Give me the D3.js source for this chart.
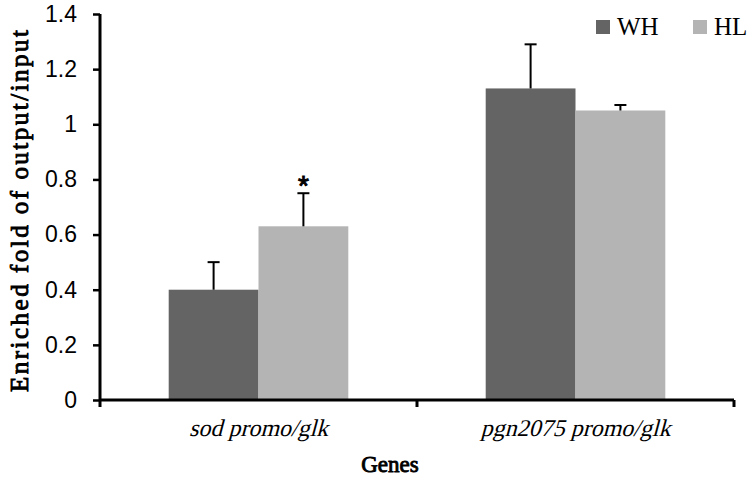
<!DOCTYPE html>
<html>
<head>
<meta charset="utf-8">
<script src="https://cdn.jsdelivr.net/npm/d3@7"></script>
<style>
  html, body { margin: 0; padding: 0; background: #fff; }
  svg { display: block; }
</style>
</head>
<body>
<svg id="chart" width="750" height="477"></svg>
<script>
// data
const categories = ['sod promo/glk', 'pgn2075 promo/glk'];
const seriesNames = ['WH', 'HL'];
const whValues = [0.40, 1.13];
const hlValues = [0.63, 1.05];
const whErrors = [0.10, 0.16];
const hlErrors = [0.12, 0.02];
const hlMarks = ['*', ''];
const yTicks = [0, 0.2, 0.4, 0.6, 0.8, 1, 1.2, 1.4];
const yTickLabels = ['0', '0.2', '0.4', '0.6', '0.8', '1', '1.2', '1.4'];

const colors = { WH: '#646464', HL: '#b4b4b4' };
// only the regular serif face is usable here, so bold/italic are faked
const serif = "'Liberation Serif', 'Times New Roman', serif";

const svg = d3.select('#chart');
const plotLeft = 100, plotRight = 734, plotTop = 14, plotBottom = 400;

const y = d3.scaleLinear().domain([0, 1.4]).range([plotBottom, plotTop]);
const x0 = d3.scaleBand().domain(categories).range([plotLeft, plotRight]).padding(0);
const x1 = d3.scaleBand().domain(seriesNames).range([0, x0.bandwidth()])
    .paddingInner(0).paddingOuter(0.765);

const rows = categories.map((c, i) => ({
    cat: c,
    bars: [
        { key: 'WH', value: whValues[i], err: whErrors[i], mark: '' },
        { key: 'HL', value: hlValues[i], err: hlErrors[i], mark: hlMarks[i] }
    ]
}));

// bars
const group = svg.append('g').selectAll('g')
    .data(rows)
    .enter()
    .append('g')
    .attr('transform', (d) => `translate(${x0(d.cat)},0)`);

group.selectAll('rect')
    .data((d) => d.bars)
    .enter()
    .append('rect')
    .attr('x', (d) => x1(d.key))
    .attr('y', (d) => y(d.value))
    .attr('width', x1.bandwidth())
    .attr('height', (d) => y(0) - y(d.value))
    .attr('fill', (d) => colors[d.key]);

// error bars (upper only)
const err = group.selectAll('g.err')
    .data((d) => d.bars)
    .enter()
    .append('g')
    .attr('class', 'err')
    .attr('stroke', '#000')
    .attr('stroke-width', 2);

err.append('line')
    .attr('x1', (d) => x1(d.key) + x1.bandwidth() / 2)
    .attr('x2', (d) => x1(d.key) + x1.bandwidth() / 2)
    .attr('y1', (d) => y(d.value))
    .attr('y2', (d) => y(d.value + d.err));

err.append('line')
    .attr('x1', (d) => x1(d.key) + x1.bandwidth() / 2 - 6)
    .attr('x2', (d) => x1(d.key) + x1.bandwidth() / 2 + 6)
    .attr('y1', (d) => y(d.value + d.err))
    .attr('y2', (d) => y(d.value + d.err));

group.selectAll('text.mark')
    .data((d) => d.bars.filter((b) => b.mark))
    .enter()
    .append('text')
    .attr('class', 'mark')
    .attr('x', (d) => x1(d.key) + x1.bandwidth() / 2)
    .attr('y', (d) => y(d.value + d.err) + 2)
    .attr('text-anchor', 'middle')
    .attr('font-family', "'Liberation Sans', Arial, sans-serif")
    .attr('stroke', '#000')
    .attr('stroke-width', 1)
    .attr('font-size', 28)
    .text((d) => d.mark);

// y axis
const yAxis = svg.append('g')
    .attr('transform', `translate(${plotLeft},0)`)
    .call(d3.axisLeft(y)
        .tickValues(yTicks)
        .tickSize(7)
        .tickPadding(16)
        .tickFormat((d, i) => yTickLabels[i]));
yAxis.select('.domain').attr('stroke-width', 3).attr('d', `M0,${plotTop}V${plotBottom + 7}`);
yAxis.selectAll('.tick line').attr('stroke-width', 2.5);
yAxis.selectAll('.tick text')
    .attr('font-family', "'Liberation Sans', Arial, sans-serif")
    .attr('font-size', 23)
    .attr('fill', '#000');

// x axis
const xAxis = svg.append('g')
    .attr('transform', `translate(0,${plotBottom})`)
    .call(d3.axisBottom(x0).tickSize(0));
xAxis.select('.domain').attr('stroke-width', 3).attr('d', `M${plotLeft},0H${plotRight}`);
xAxis.selectAll('.tick text')
    .attr('y', 0)
    .attr('dy', 0)
    .attr('transform', 'translate(0,36) skewX(-15)')
    .attr('font-family', serif)
    .attr('font-style', 'normal')
    .attr('font-size', 24)
    .attr('fill', '#000');

xAxis.selectAll('line.sep')
    .data(categories)
    .enter()
    .append('line')
    .attr('class', 'sep')
    .attr('x1', (d) => x0(d) + x0.bandwidth())
    .attr('x2', (d) => x0(d) + x0.bandwidth())
    .attr('y1', 0)
    .attr('y2', 7)
    .attr('stroke', '#000')
    .attr('stroke-width', 3);

// axis titles
svg.append('text')
    .attr('transform', `translate(28,${(plotTop + plotBottom) / 2 + 4}) rotate(-90)`)
    .attr('text-anchor', 'middle')
    .attr('font-family', serif)
    .attr('stroke', '#000')
    .attr('stroke-width', 0.9)
    .attr('font-size', 25)
    .attr('textLength', 362)
    .attr('lengthAdjust', 'spacing')
    .text('Enriched fold of output/input');

svg.append('text')
    .attr('x', 390)
    .attr('y', 472)
    .attr('text-anchor', 'middle')
    .attr('font-family', serif)
    .attr('stroke', '#000')
    .attr('stroke-width', 0.9)
    .attr('font-size', 23)
    .text('Genes');

// legend
const legend = svg.append('g')
    .selectAll('g')
    .data(seriesNames)
    .enter()
    .append('g')
    .attr('transform', (d, i) => `translate(${596 + i * 97},20)`);

legend.append('rect')
    .attr('width', 14)
    .attr('height', 14)
    .attr('fill', (d) => colors[d]);

legend.append('text')
    .attr('x', 21)
    .attr('y', 15)
    .attr('font-family', serif)
    .attr('font-size', 25)
    .text((d) => d);
</script>
</body>
</html>
